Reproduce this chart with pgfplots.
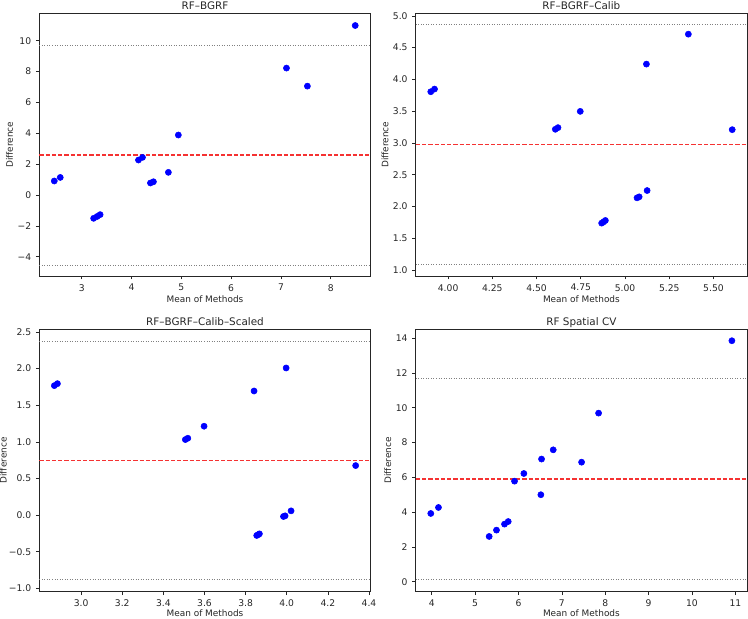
\documentclass[border=0pt]{standalone}
\usepackage{fontspec}
\setmainfont{DejaVu Sans}
\usepackage{pgfplots}
\pgfplotsset{compat=1.18}
\definecolor{meanred}{RGB}{245,50,50}
\definecolor{loagray}{RGB}{128,128,128}
\pgfplotsset{
  ba/.style={
    scale only axis,
    width=248.5pt, height=197pt,
    anchor=south west,
    axis line style={line width=0.6pt, black!85},
    tick style={line width=0.5pt, black!85},
    tick align=outside, major tick length=2.6pt,
    xtick pos=bottom, ytick pos=left,
    ticklabel style={font=\fontsize{6.9}{8}\selectfont, text=black!85},
    label style={font=\fontsize{6.7}{8}\selectfont, text=black!85},
    title style={font=\fontsize{7.8}{9}\selectfont, text=black!85, anchor=base, yshift=-3.5pt},
    xlabel={Mean of Methods}, ylabel={Difference},
    xlabel style={yshift=3.2pt},
    ylabel style={yshift=-3.5pt},
    clip=false,
  },
  pts/.style={only marks, mark=*, mark size=2.3pt, mark options={draw=blue, fill=blue}, blue},
  meanl/.style={meanred, line width=1.1pt, dash pattern=on 3.2pt off 1.5pt},
  loal/.style={loagray, line width=0.6pt, dash pattern=on 0.7pt off 1.2pt},
}
\begin{document}
\begin{tikzpicture}
\useasboundingbox (0,0) rectangle (561pt,463.5pt);
% Panel 1
\begin{axis}[ba, at={(29.5pt,256.5pt)}, title={RF–BGRF},
  xmin=2.15, xmax=8.80, ymin=-5.25, ymax=11.78,
  xtick={3,4,5,6,7,8}, xticklabels={3,4,5,6,7,8},
  ytick={-4,-2,0,2,4,6,8,10}, yticklabels={−4,−2,0,2,4,6,8,10}]
\addplot[loal] coordinates {(2.15,9.68) (8.80,9.68)};
\addplot[meanl] coordinates {(2.15,2.58) (8.80,2.58)};
\addplot[loal] coordinates {(2.15,-4.54) (8.80,-4.54)};
\addplot[pts] coordinates {
(2.45,0.91) (2.57,1.14) (3.24,-1.51) (3.31,-1.39) (3.37,-1.27)
(4.14,2.27) (4.22,2.44) (4.38,0.78) (4.44,0.86) (4.74,1.47)
(4.94,3.89) (7.11,8.23) (7.53,7.06) (8.49,10.99)};
\end{axis}
% Panel 2
\begin{axis}[ba, at={(311.8pt,256.5pt)}, title={RF–BGRF–Calib},
  xmin=3.817, xmax=5.69, ymin=0.906, ymax=5.04,
  xtick={4,4.25,4.5,4.75,5,5.25,5.5}, xticklabels={4.00,4.25,4.50,4.75,5.00,5.25,5.50},
  ytick={1,1.5,2,2.5,3,3.5,4,4.5,5}, yticklabels={1.0,1.5,2.0,2.5,3.0,3.5,4.0,4.5,5.0}]
\addplot[loal] coordinates {(3.817,4.859) (5.69,4.859)};
\addplot[meanl] coordinates {(3.817,2.974) (5.69,2.974)};
\addplot[loal] coordinates {(3.817,1.089) (5.69,1.089)};
\addplot[pts] coordinates {
(3.902,3.806) (3.923,3.848) (4.606,3.215) (4.621,3.241) (4.747,3.497)
(4.868,1.738) (4.879,1.758) (4.889,1.780) (5.068,2.136) (5.080,2.152)
(5.121,4.241) (5.125,2.251) (5.358,4.712) (5.606,3.209)};
\end{axis}
% Panel 3
\begin{axis}[ba, at={(29.5pt,19.7pt)}, title={RF–BGRF–Calib–Scaled},
  xlabel style={yshift=1.3pt}, ylabel style={yshift=-1.8pt},
  xmin=2.797, xmax=4.408, ymin=-1.045, ymax=2.54,
  xtick={3,3.2,3.4,3.6,3.8,4,4.2,4.4}, xticklabels={3.0,3.2,3.4,3.6,3.8,4.0,4.2,4.4},
  ytick={-1,-0.5,0,0.5,1,1.5,2,2.5}, yticklabels={−1.0,−0.5,0.0,0.5,1.0,1.5,2.0,2.5}]
\addplot[loal] coordinates {(2.797,2.377) (4.408,2.377)};
\addplot[meanl] coordinates {(2.797,0.747) (4.408,0.747)};
\addplot[loal] coordinates {(2.797,-0.882) (4.408,-0.882)};
\addplot[pts] coordinates {
(2.870,1.768) (2.885,1.795) (3.507,1.032) (3.519,1.050) (3.598,1.214)
(3.841,1.695) (3.997,2.009) (3.854,-0.277) (3.860,-0.268) (3.867,-0.255)
(3.984,-0.018) (3.992,-0.009) (4.021,0.059) (4.335,0.677)};
\end{axis}
% Panel 4
\begin{axis}[ba, at={(311.8pt,19.7pt)}, title={RF Spatial CV},
  xlabel style={yshift=1.3pt},
  xmin=3.63, xmax=11.27, ymin=-0.575, ymax=14.52,
  xtick={4,5,6,7,8,9,10,11}, xticklabels={4,5,6,7,8,9,10,11},
  ytick={0,2,4,6,8,10,12,14}, yticklabels={0,2,4,6,8,10,12,14}]
\addplot[loal] coordinates {(3.63,11.70) (11.27,11.70)};
\addplot[meanl] coordinates {(3.63,5.90) (11.27,5.90)};
\addplot[loal] coordinates {(3.63,0.115) (11.27,0.115)};
\addplot[pts] coordinates {
(3.977,3.923) (4.154,4.268) (5.323,2.602) (5.492,2.966) (5.677,3.310)
(5.762,3.460) (5.908,5.780) (6.123,6.220) (6.515,5.000) (6.531,7.050)
(6.800,7.580) (7.454,6.870) (7.846,9.690) (10.92,13.85)};
\end{axis}
\end{tikzpicture}
\end{document}
